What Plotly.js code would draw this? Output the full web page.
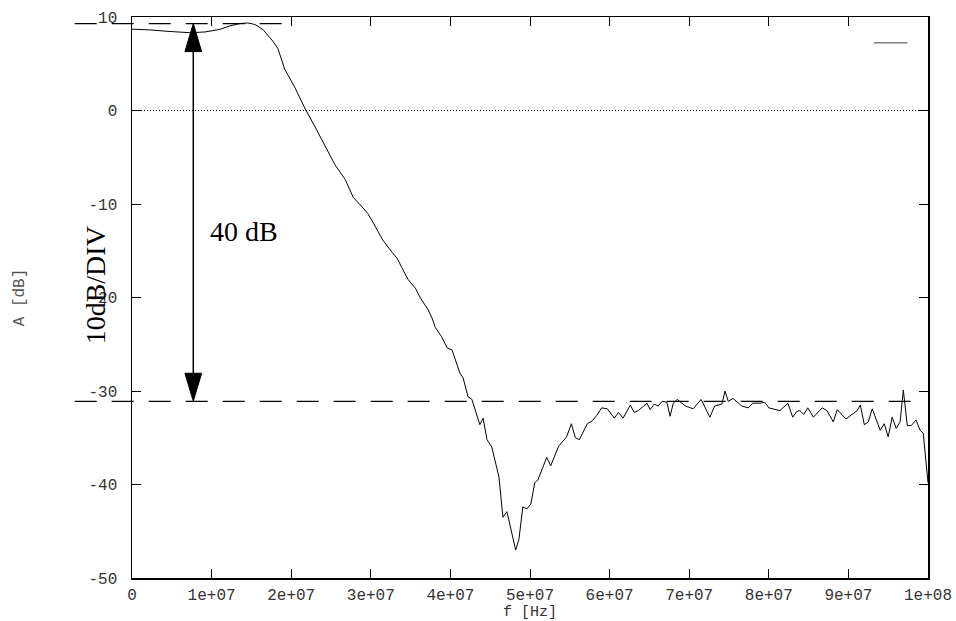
<!DOCTYPE html>
<html>
<head>
<meta charset="utf-8">
<script src="https://cdn.plot.ly/plotly-3.0.1.min.js"></script>
<style>
  html, body { margin: 0; padding: 0; background: #fff; }
  #chart { width: 956px; height: 621px; }
</style>
</head>
<body>
<div id="chart"></div>
<script>
// ---- data ----
const freqHz = [
  0, 2.26e6, 4.77e6, 7.29e6, 9.17e6, 1.106e7, 1.23e7, 1.357e7, 1.457e7, 1.545e7,
  1.646e7, 1.771e7, 1.834e7, 1.92e7, 2.05e7, 2.17e7, 2.3e7, 2.42e7, 2.55e7, 2.68e7,
  2.78e7, 2.89e7, 2.96e7, 3.03e7, 3.15e7, 3.27e7, 3.33e7, 3.39e7, 3.47e7, 3.56e7,
  3.62e7, 3.68e7, 3.72e7, 3.77e7, 3.81e7, 3.89e7, 3.93e7, 3.96e7, 4.02e7, 4.12e7,
  4.16e7, 4.22e7, 4.27e7, 4.37e7, 4.41e7, 4.46e7, 4.52e7, 4.61e7, 4.66e7, 4.71e7,
  4.82e7, 4.86e7, 4.91e7, 4.96e7, 5.01e7, 5.06e7, 5.10e7, 5.21e7, 5.26e7, 5.36e7,
  5.46e7, 5.52e7, 5.57e7, 5.62e7, 5.72e7, 5.78e7, 5.84e7, 5.90e7, 5.97e7, 6.06e7,
  6.11e7, 6.17e7, 6.26e7, 6.31e7, 6.36e7, 6.47e7, 6.51e7, 6.56e7, 6.61e7, 6.66e7,
  6.72e7, 6.76e7, 6.80e7, 6.85e7, 6.95e7, 7.05e7, 7.15e7, 7.26e7, 7.32e7, 7.41e7,
  7.45e7, 7.49e7, 7.55e7, 7.66e7, 7.74e7, 7.80e7, 7.89e7, 7.95e7, 8.00e7, 8.14e7,
  8.24e7, 8.30e7, 8.35e7, 8.39e7, 8.44e7, 8.49e7, 8.56e7, 8.67e7, 8.73e7, 8.81e7,
  8.86e7, 8.97e7, 9.06e7, 9.11e7, 9.15e7, 9.20e7, 9.25e7, 9.30e7, 9.40e7, 9.45e7,
  9.50e7, 9.55e7, 9.60e7, 9.65e7, 9.69e7, 9.74e7, 9.79e7, 9.85e7, 9.90e7, 9.94e7,
  1.0e8
];
const gainDb = [
  8.7, 8.62, 8.45, 8.32, 8.4, 8.68, 9.05, 9.3, 9.36, 9.2,
  8.65, 7.4, 6.6, 4.4, 2.4, 0.27, -1.76, -3.7, -5.8, -7.4,
  -9.3, -10.3, -11.0, -12.0, -13.85, -15.2, -15.8, -16.8, -18.1, -19.0,
  -20.0, -20.8, -21.3, -22.2, -23.2, -24.2, -24.9, -25.4, -25.6, -28.1,
  -28.6, -30.6, -30.9, -33.6, -32.9, -35.2, -36.0, -39.2, -43.5, -42.9,
  -47.0, -45.9, -42.4, -42.6, -42.1, -39.8, -39.5, -37.1, -38.0, -35.9,
  -34.9, -33.5, -35.0, -35.2, -33.5, -33.2, -32.6, -31.8, -31.9, -32.9,
  -32.3, -32.9, -31.5, -32.3, -32.1, -31.3, -32.0, -31.4, -31.6, -31.1,
  -31.2, -32.7, -31.3, -30.9, -31.6, -31.9, -30.9, -32.8, -31.6, -31.4,
  -30.0, -31.1, -30.8, -31.6, -31.8, -31.3, -31.3, -31.2, -31.8, -32.1,
  -31.3, -32.8, -32.2, -32.1, -32.5, -31.8, -32.8, -31.8, -32.1, -33.3,
  -32.0, -33.0, -32.4, -32.1, -31.5, -33.6, -33.3, -31.9, -34.2, -33.5,
  -34.9, -32.8, -34.0, -33.3, -29.9, -33.7, -33.7, -33.1, -34.2, -34.5,
  -39.8
];

const xTickVals = [0, 1e7, 2e7, 3e7, 4e7, 5e7, 6e7, 7e7, 8e7, 9e7, 1e8];
const xTickText = ['0', '1e+07', '2e+07', '3e+07', '4e+07', '5e+07', '6e+07', '7e+07', '8e+07', '9e+07', '1e+08'];
const yTickVals = [-50, -40, -30, -20, -10, 0, 10];
const yTickText = ['-50', '-40', '-30', '-20', '-10', '0', '10'];

// reference levels and arrow
const levelTop = 9.3;        // dB, pass-band level
const levelBottom = -31.1;   // dB, stop-band level
const arrowX = 7.7e6;        // Hz
const topLineEndX = 1.95e7;  // Hz
const bottomLineEndX = 9.9e7;// Hz
const lineStartPaper = -0.072;
const headLenDb = 3.0;
const headHalfWidthHz = 1.05e6;
const labelDelta = '40 dB';
const labelDiv = '10dB/DIV';
const labelDeltaX = 0.95e7, labelDeltaY = -12.9;
const labelDivY = -18.7;

const xRange = [0, 1e8];
const yRange = [-50, 10];
const toPaperX = v => (v - xRange[0]) / (xRange[1] - xRange[0]);

const trace = {
  x: freqHz, y: gainDb, type: 'scatter', mode: 'lines',
  line: { color: '#000', width: 1 }, showlegend: false, hoverinfo: 'skip'
};

const monoFont = { family: 'Liberation Mono, Courier New, monospace', size: 16, color: '#333' };

const shapes = [
  // dotted zero axis
  { type: 'line', xref: 'paper', yref: 'y', x0: 0, x1: 1, y0: 0, y1: 0,
    line: { color: '#000', width: 1, dash: '1px,2px' }, layer: 'below' },
  // dashed reference levels
  { type: 'line', xref: 'paper', yref: 'y', x0: lineStartPaper, x1: toPaperX(topLineEndX),
    y0: levelTop, y1: levelTop, line: { color: '#000', width: 1.2, dash: '22px,15px' } },
  { type: 'line', xref: 'paper', yref: 'y', x0: lineStartPaper, x1: toPaperX(bottomLineEndX),
    y0: levelBottom, y1: levelBottom, line: { color: '#000', width: 1.2, dash: '22px,15px' } },
  // arrow shaft
  { type: 'line', xref: 'x', yref: 'y', x0: arrowX, x1: arrowX,
    y0: levelTop - headLenDb, y1: levelBottom + headLenDb, line: { color: '#000', width: 1.5 } },
  // arrow heads
  { type: 'path', xref: 'x', yref: 'y',
    path: `M ${arrowX},${levelTop} L ${arrowX - headHalfWidthHz},${levelTop - headLenDb} L ${arrowX + headHalfWidthHz},${levelTop - headLenDb} Z`,
    fillcolor: '#000', line: { color: '#000', width: 1 } },
  { type: 'path', xref: 'x', yref: 'y',
    path: `M ${arrowX},${levelBottom} L ${arrowX - headHalfWidthHz},${levelBottom + headLenDb} L ${arrowX + headHalfWidthHz},${levelBottom + headLenDb} Z`,
    fillcolor: '#000', line: { color: '#000', width: 1 } },
  // empty-title legend sample line
  { type: 'line', xref: 'paper', yref: 'paper', x0: 0.932, x1: 0.974, y0: 0.954, y1: 0.954,
    line: { color: '#808080', width: 1.5 } }
];

const annotations = [
  { text: labelDelta, xref: 'x', yref: 'y', x: labelDeltaX, y: labelDeltaY,
    xanchor: 'left', yanchor: 'middle', showarrow: false,
    font: { family: 'Liberation Serif, Times New Roman, serif', size: 28, color: '#000' } },
  { text: labelDiv, xref: 'paper', yref: 'y', x: -0.0465, y: labelDivY, textangle: -90,
    xanchor: 'center', yanchor: 'middle', showarrow: false,
    font: { family: 'Liberation Serif, Times New Roman, serif', size: 28, color: '#000' } }
];

const layout = {
  width: 956, height: 621,
  margin: { l: 132, r: 28, t: 17, b: 43 },
  paper_bgcolor: '#fff', plot_bgcolor: '#fff',
  showlegend: false,
  xaxis: {
    range: xRange, tickvals: xTickVals, ticktext: xTickText,
    showgrid: false, zeroline: false, showline: true, mirror: 'allticks',
    linecolor: '#000', linewidth: 1.5, ticks: 'inside', ticklen: 9, tickwidth: 1, tickcolor: '#000',
    tickfont: monoFont, ticklabelstandoff: 1,
    title: { text: 'f [Hz]', font: { family: 'Liberation Mono, Courier New, monospace', size: 15, color: '#333' }, standoff: 8 }
  },
  yaxis: {
    range: yRange, tickvals: yTickVals, ticktext: yTickText,
    showgrid: false, zeroline: false, showline: true, mirror: 'allticks',
    linecolor: '#000', linewidth: 1.5, ticks: 'inside', ticklen: 9, tickwidth: 1, tickcolor: '#000',
    tickfont: monoFont, ticklabelstandoff: 10,
    title: { text: 'A [dB]', font: { family: 'Liberation Mono, Courier New, monospace', size: 16, color: '#555' }, standoff: 60 }
  },
  shapes: shapes,
  annotations: annotations
};

Plotly.newPlot('chart', [trace], layout, { displayModeBar: false, staticPlot: true });
</script>
</body>
</html>
